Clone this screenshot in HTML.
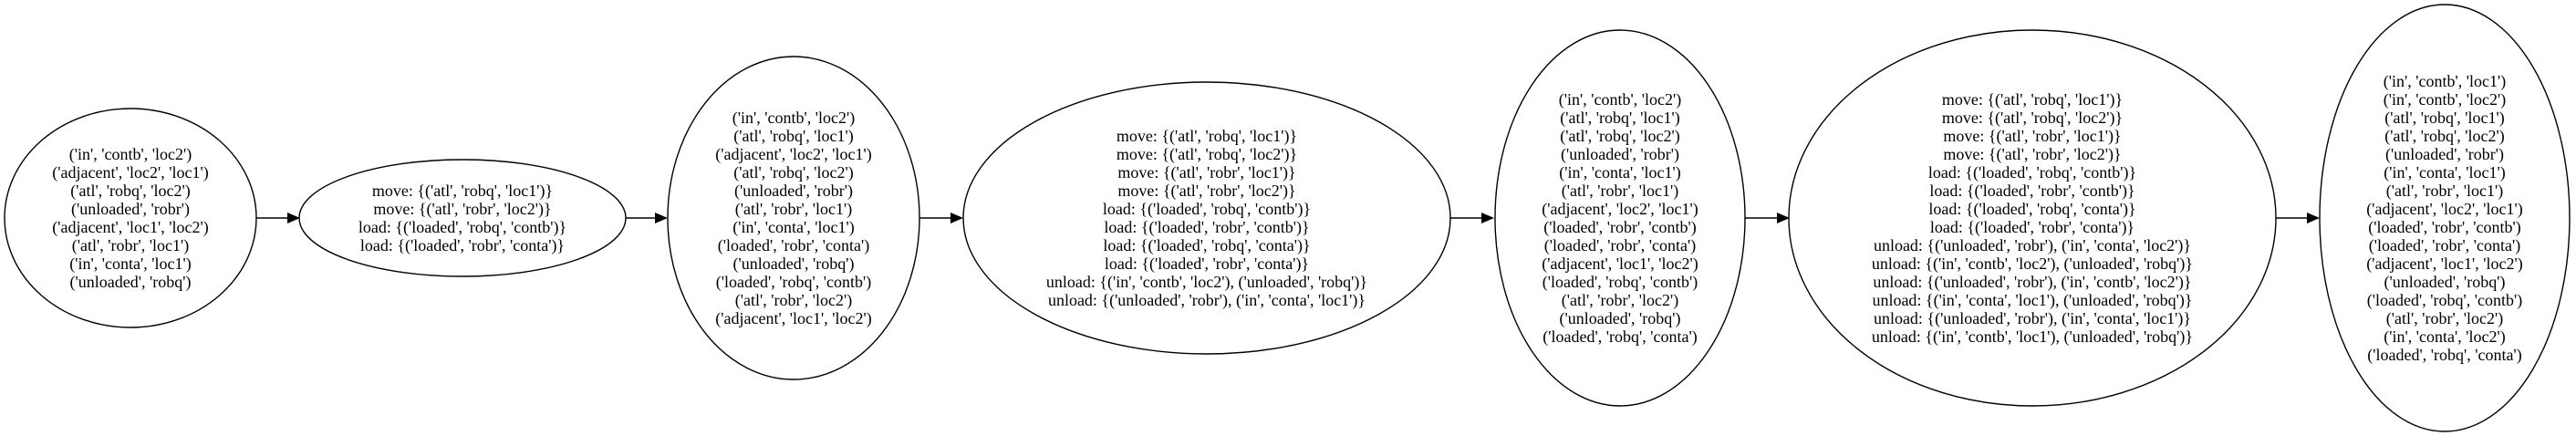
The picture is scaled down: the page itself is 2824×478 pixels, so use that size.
<!DOCTYPE html>
<html><head><meta charset="utf-8"><style>
html,body{margin:0;padding:0;background:#fff;width:2824px;height:478px;overflow:hidden}
svg text{font-family:"Liberation Serif",serif;font-size:18px;fill:#000}
</style></head><body>
<svg width="2824" height="478" viewBox="0 0 2824 478" xmlns="http://www.w3.org/2000/svg">
<g fill="none" stroke="#000" stroke-width="1.4">
<ellipse cx="143" cy="239" rx="138" ry="120"/>
<ellipse cx="507" cy="239" rx="179" ry="64"/>
<ellipse cx="870" cy="239" rx="138" ry="177"/>
<ellipse cx="1323" cy="239" rx="267" ry="149"/>
<ellipse cx="1776" cy="239" rx="137" ry="206"/>
<ellipse cx="2228" cy="239" rx="267" ry="206"/>
<ellipse cx="2680" cy="239" rx="137" ry="234"/>
<line x1="281" y1="239" x2="315" y2="239"/>
<line x1="686" y1="239" x2="719" y2="239"/>
<line x1="1008" y1="239" x2="1043" y2="239"/>
<line x1="1590" y1="239" x2="1625" y2="239"/>
<line x1="1913" y1="239" x2="1948" y2="239"/>
<line x1="2495" y1="239" x2="2530" y2="239"/>
</g>
<g fill="#000">
<polygon points="315,233 329,239 315,245"/>
<polygon points="718,233 732,239 718,245"/>
<polygon points="1042,233 1056,239 1042,245"/>
<polygon points="1624,233 1638,239 1624,245"/>
<polygon points="1948,233 1962,239 1948,245"/>
<polygon points="2529,233 2543,239 2529,245"/>
</g>
<g text-anchor="middle">
<text x="143" y="175">('in', 'contb', 'loc2')</text>
<text x="143" y="195">('adjacent', 'loc2', 'loc1')</text>
<text x="143" y="215">('atl', 'robq', 'loc2')</text>
<text x="143" y="235">('unloaded', 'robr')</text>
<text x="143" y="255">('adjacent', 'loc1', 'loc2')</text>
<text x="143" y="275">('atl', 'robr', 'loc1')</text>
<text x="143" y="295">('in', 'conta', 'loc1')</text>
<text x="143" y="315">('unloaded', 'robq')</text>

<text x="507" y="215">move: {('atl', 'robq', 'loc1')}</text>
<text x="507" y="235">move: {('atl', 'robr', 'loc2')}</text>
<text x="507" y="255">load: {('loaded', 'robq', 'contb')}</text>
<text x="507" y="275">load: {('loaded', 'robr', 'conta')}</text>

<text x="870" y="135">('in', 'contb', 'loc2')</text>
<text x="870" y="155">('atl', 'robq', 'loc1')</text>
<text x="870" y="175">('adjacent', 'loc2', 'loc1')</text>
<text x="870" y="195">('atl', 'robq', 'loc2')</text>
<text x="870" y="215">('unloaded', 'robr')</text>
<text x="870" y="235">('atl', 'robr', 'loc1')</text>
<text x="870" y="255">('in', 'conta', 'loc1')</text>
<text x="870" y="275">('loaded', 'robr', 'conta')</text>
<text x="870" y="295">('unloaded', 'robq')</text>
<text x="870" y="315">('loaded', 'robq', 'contb')</text>
<text x="870" y="335">('atl', 'robr', 'loc2')</text>
<text x="870" y="355">('adjacent', 'loc1', 'loc2')</text>

<text x="1323" y="155">move: {('atl', 'robq', 'loc1')}</text>
<text x="1323" y="175">move: {('atl', 'robq', 'loc2')}</text>
<text x="1323" y="195">move: {('atl', 'robr', 'loc1')}</text>
<text x="1323" y="215">move: {('atl', 'robr', 'loc2')}</text>
<text x="1323" y="235">load: {('loaded', 'robq', 'contb')}</text>
<text x="1323" y="255">load: {('loaded', 'robr', 'contb')}</text>
<text x="1323" y="275">load: {('loaded', 'robq', 'conta')}</text>
<text x="1323" y="295">load: {('loaded', 'robr', 'conta')}</text>
<text x="1323" y="315">unload: {('in', 'contb', 'loc2'), ('unloaded', 'robq')}</text>
<text x="1323" y="335">unload: {('unloaded', 'robr'), ('in', 'conta', 'loc1')}</text>

<text x="1776" y="115">('in', 'contb', 'loc2')</text>
<text x="1776" y="135">('atl', 'robq', 'loc1')</text>
<text x="1776" y="155">('atl', 'robq', 'loc2')</text>
<text x="1776" y="175">('unloaded', 'robr')</text>
<text x="1776" y="195">('in', 'conta', 'loc1')</text>
<text x="1776" y="215">('atl', 'robr', 'loc1')</text>
<text x="1776" y="235">('adjacent', 'loc2', 'loc1')</text>
<text x="1776" y="255">('loaded', 'robr', 'contb')</text>
<text x="1776" y="275">('loaded', 'robr', 'conta')</text>
<text x="1776" y="295">('adjacent', 'loc1', 'loc2')</text>
<text x="1776" y="315">('loaded', 'robq', 'contb')</text>
<text x="1776" y="335">('atl', 'robr', 'loc2')</text>
<text x="1776" y="355">('unloaded', 'robq')</text>
<text x="1776" y="375">('loaded', 'robq', 'conta')</text>

<text x="2228" y="115">move: {('atl', 'robq', 'loc1')}</text>
<text x="2228" y="135">move: {('atl', 'robq', 'loc2')}</text>
<text x="2228" y="155">move: {('atl', 'robr', 'loc1')}</text>
<text x="2228" y="175">move: {('atl', 'robr', 'loc2')}</text>
<text x="2228" y="195">load: {('loaded', 'robq', 'contb')}</text>
<text x="2228" y="215">load: {('loaded', 'robr', 'contb')}</text>
<text x="2228" y="235">load: {('loaded', 'robq', 'conta')}</text>
<text x="2228" y="255">load: {('loaded', 'robr', 'conta')}</text>
<text x="2228" y="275">unload: {('unloaded', 'robr'), ('in', 'conta', 'loc2')}</text>
<text x="2228" y="295">unload: {('in', 'contb', 'loc2'), ('unloaded', 'robq')}</text>
<text x="2228" y="315">unload: {('unloaded', 'robr'), ('in', 'contb', 'loc2')}</text>
<text x="2228" y="335">unload: {('in', 'conta', 'loc1'), ('unloaded', 'robq')}</text>
<text x="2228" y="355">unload: {('unloaded', 'robr'), ('in', 'conta', 'loc1')}</text>
<text x="2228" y="375">unload: {('in', 'contb', 'loc1'), ('unloaded', 'robq')}</text>

<text x="2680" y="95">('in', 'contb', 'loc1')</text>
<text x="2680" y="115">('in', 'contb', 'loc2')</text>
<text x="2680" y="135">('atl', 'robq', 'loc1')</text>
<text x="2680" y="155">('atl', 'robq', 'loc2')</text>
<text x="2680" y="175">('unloaded', 'robr')</text>
<text x="2680" y="195">('in', 'conta', 'loc1')</text>
<text x="2680" y="215">('atl', 'robr', 'loc1')</text>
<text x="2680" y="235">('adjacent', 'loc2', 'loc1')</text>
<text x="2680" y="255">('loaded', 'robr', 'contb')</text>
<text x="2680" y="275">('loaded', 'robr', 'conta')</text>
<text x="2680" y="295">('adjacent', 'loc1', 'loc2')</text>
<text x="2680" y="315">('unloaded', 'robq')</text>
<text x="2680" y="335">('loaded', 'robq', 'contb')</text>
<text x="2680" y="355">('atl', 'robr', 'loc2')</text>
<text x="2680" y="375">('in', 'conta', 'loc2')</text>
<text x="2680" y="395">('loaded', 'robq', 'conta')</text>
</g>
</svg>
</body></html>
